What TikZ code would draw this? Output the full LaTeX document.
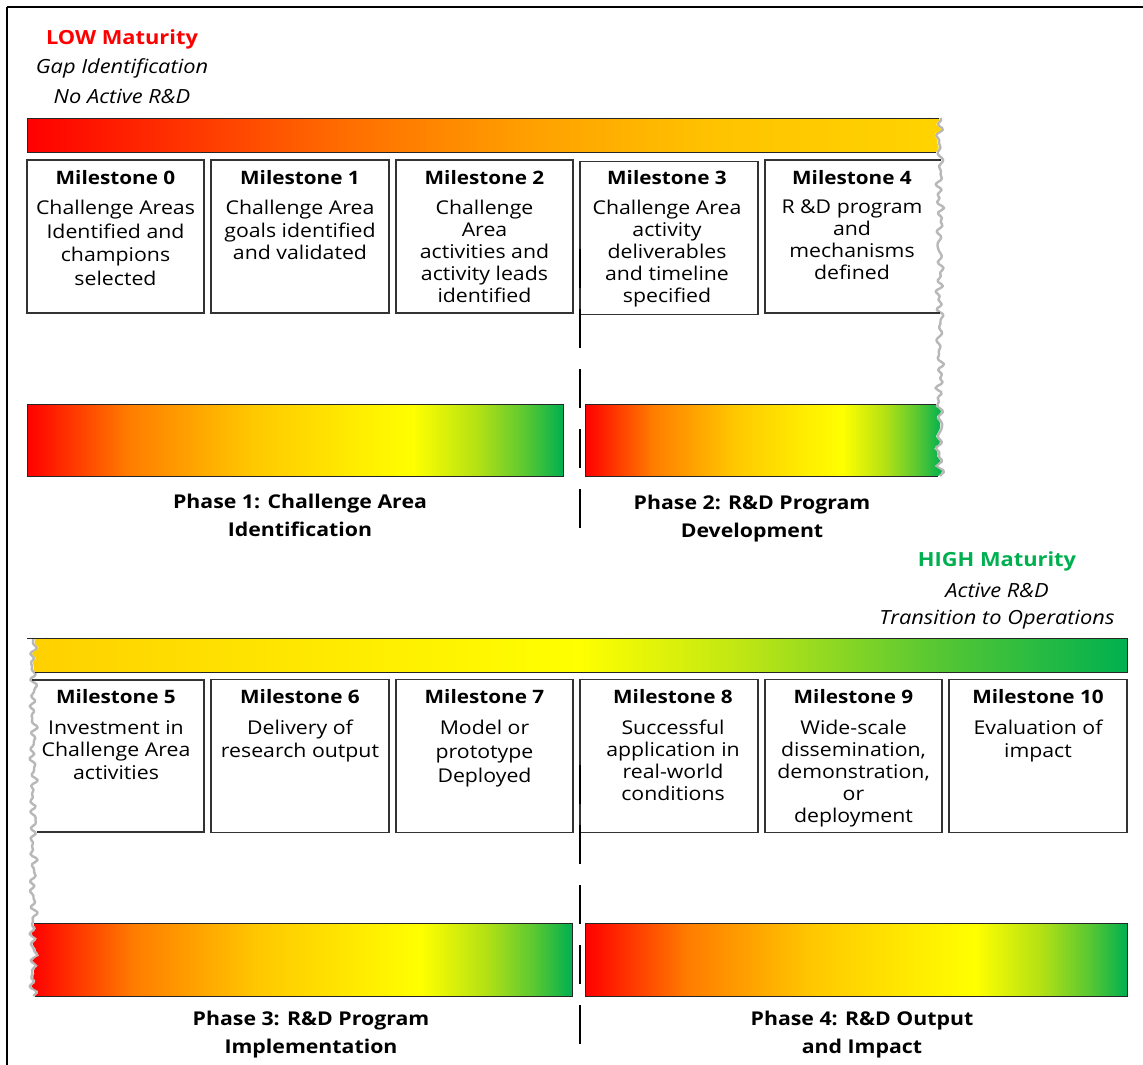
\documentclass[tikz,border=0pt]{standalone}
\usepackage{fontspec}
\setmainfont{Open Sans}[FakeStretch=1.12]
\definecolor{lowred}{RGB}{255,0,0}
\definecolor{highgreen}{RGB}{0,176,80}
\definecolor{tA}{RGB}{255,0,0}
\definecolor{tB}{RGB}{255,45,0}
\definecolor{tC}{RGB}{255,110,0}
\definecolor{tD}{RGB}{255,160,0}
\definecolor{tE}{RGB}{255,195,0}
\definecolor{tF}{RGB}{255,212,0}
\definecolor{pA}{RGB}{255,0,0}
\definecolor{pB}{RGB}{255,125,0}
\definecolor{pC}{RGB}{255,200,0}
\definecolor{pD}{RGB}{255,238,0}
\definecolor{pE}{RGB}{255,255,0}
\definecolor{pF}{RGB}{180,225,20}
\definecolor{pG}{RGB}{90,200,50}
\definecolor{pH}{RGB}{0,176,80}
\definecolor{hA}{RGB}{255,208,0}
\definecolor{hB}{RGB}{255,232,0}
\definecolor{hC}{RGB}{255,255,0}
\definecolor{hD}{RGB}{190,230,20}
\definecolor{hE}{RGB}{90,200,50}
\definecolor{hF}{RGB}{0,176,80}
\pgfdeclarehorizontalshading{topsh}{100bp}{color(0bp)=(tA); color(25bp)=(tA); color(32.5bp)=(tB); color(42.5bp)=(tC); color(52.5bp)=(tD); color(62.5bp)=(tE); color(75bp)=(tF); color(100bp)=(tF)}
\pgfdeclarehorizontalshading{phasesh}{100bp}{color(0bp)=(pA); color(25bp)=(pA); color(34.5bp)=(pB); color(46bp)=(pC); color(56bp)=(pD); color(61bp)=(pE); color(67bp)=(pF); color(71.5bp)=(pG); color(75bp)=(pH); color(100bp)=(pH)}
\pgfdeclarehorizontalshading{highsh}{100bp}{color(0bp)=(hA); color(25bp)=(hA); color(37.5bp)=(hB); color(50bp)=(hC); color(57.5bp)=(hD); color(66bp)=(hE); color(75bp)=(hF); color(100bp)=(hF)}
\begin{document}
\begin{tikzpicture}[x=1pt,y=-1pt,
  declare function={tr(\t)=938+1.8*sin(\t*23)+1.4*sin((\t-100)*37+50)+1.2*sin(\t*7+10)+0.7*sin((\t-100)*41); tl(\t)=35+1.8*sin((\t-630)*27)+1.4*sin((\t-630)*41+40)+1.2*sin((\t-630)*8)+0.7*sin((\t-630)*19+70);},
  msbox/.style={draw=black!80, line width=1.1pt, minimum height=153, inner sep=0},
  edge/.style={draw=black!80, line width=1.1pt},
  barline/.style={draw=black!85, line width=1pt},
  tearshadow/.style={draw=black!28, line width=2.4pt, line join=round},
  mstitle/.style={font=\fontsize{18.5}{22}\selectfont\bfseries, inner sep=0},
  msbody/.style={font=\fontsize{19}{22.5}\selectfont, align=center, inner sep=0, anchor=north},
  phaselbl/.style={font=\fontsize{19}{28}\selectfont\bfseries, align=center, inner sep=0},
  hdr/.style={font=\fontsize{19.5}{24}\selectfont, inner sep=0},
  divider/.style={line width=2pt, dash pattern=on 39pt off 21pt}]
\useasboundingbox (0,0) rectangle (1143,1065);
% frame
\draw[line width=1.5pt] (7,1065) -- (7,7);
\draw[line width=2.2pt] (7,7) -- (1143,7);

% ===== headers =====
\node[hdr, text=lowred, font=\fontsize{19.5}{24}\selectfont\bfseries] (low) at (122,39) {LOW Maturity};
\node[hdr, font=\fontsize{19.5}{24}\selectfont\itshape] (low2) at (122,68) {Gap Identification};
\node[hdr, font=\fontsize{19.5}{24}\selectfont\itshape] (low3) at (122,96) {No Active R\&D};

\node[hdr, text=highgreen, font=\fontsize{19.5}{24}\selectfont\bfseries] (high) at (997,561) {HIGH Maturity};
\node[hdr, font=\fontsize{19.5}{24}\selectfont\itshape] (high2) at (997,590) {Active R\&D};
\node[hdr, font=\fontsize{19.5}{24}\selectfont\itshape] (high3) at (997,620) {Transition to Operations};

% ===== row 1 =====
% right tear shadow
\draw[tearshadow] plot[domain=118:476,samples=180] ({tr(\x)+1.8},\x);

% top bar (torn right)
\shade[shading=topsh] (27,118) -- plot[domain=118:152,samples=16] ({tr(\x)},\x) -- (27,152) -- cycle;
\draw[barline] ({tr(118)},118) -- (27,118) -- (27,152) -- ({tr(152)},152);

% milestone boxes row 1
\node[msbox, minimum width=177] (m0) at (115.5,236.5) {};
\node[msbox, minimum width=178] (m1) at (300,236.5) {};
\node[msbox, minimum width=177] (m2) at (484.5,236.5) {};
\node[msbox, minimum width=178] (m3) at (669,238) {};
\draw[edge] ({tr(160)},160) -- (765,160) -- (765,313) -- ({tr(313)},313);
\coordinate (m4) at (852,236.5);

\node[mstitle] (m0t) at (115.5,178) {Milestone 0};
\node[msbody, font=\fontsize{19}{23.5}\selectfont] (m0b) at (115.5,200) {Challenge Areas\\Identified and\\champions\\selected};
\node[mstitle] (m1t) at (300,178) {Milestone 1};
\node[msbody] (m1b) at (300,200) {Challenge Area\\goals identified\\and validated};
\node[mstitle] (m2t) at (484.5,178) {Milestone 2};
\node[msbody, font=\fontsize{19}{22}\selectfont] (m2b) at (484.5,200) {Challenge\\Area\\activities and\\activity leads\\identified};
\node[mstitle] (m3t) at (667,178) {Milestone 3};
\node[msbody, font=\fontsize{19}{22}\selectfont] (m3b) at (667,200) {Challenge Area\\activity\\deliverables\\and timeline\\specified};
\node[mstitle] (m4t) at (852,178) {Milestone 4};
\node[msbody, font=\fontsize{19}{22}\selectfont] (m4b) at (852,200) {R \&D program\\and\\mechanisms\\defined};

% phase bars row 1
\shade[shading=phasesh, draw=black!85, line width=1pt] (27,404) rectangle (563,476);
\coordinate (p1) at (295,440);
\shade[shading=phasesh] (585,404) -- plot[domain=404:476,samples=30] ({tr(\x)},\x) -- (585,476) -- cycle;
\draw[barline] ({tr(404)},404) -- (585,404) -- (585,476) -- ({tr(476)},476);
\coordinate (p2) at (760,440);

\node[phaselbl] (p1l) at (300,515) {Phase 1: Challenge Area\\Identification};
\node[phaselbl] (p2l) at (752,518.5) {Phase 2: R\&D Program\\Development};

% divider row 1
\coordinate (d1a) at (580,249);
\coordinate (d1b) at (580,528);
\draw[divider] (d1a) -- (d1b);

% ===== row 2 =====
% left tear shadow
\draw[tearshadow] plot[domain=638:996,samples=180] ({tl(\x)-1.8},\x);

\shade[shading=highsh] plot[domain=638:672,samples=16] ({tl(\x)},\x) -- (1127,672) -- (1127,638) -- cycle;
\draw[barline] (27,638) -- (1127,638) -- (1127,672) -- ({tl(672)},672);

\draw[edge] ({tl(680)},680) -- (204,680) -- (204,832) -- ({tl(832)},832);
\coordinate (m5) at (118,756);
\node[msbox, minimum width=178] (m6) at (300,756) {};
\node[msbox, minimum width=177] (m7) at (484.5,756) {};
\node[msbox, minimum width=178] (m8) at (669,756) {};
\node[msbox, minimum width=177] (m9) at (853.5,756) {};
\node[msbox, minimum width=178] (m10) at (1038,756) {};

\node[mstitle] (m5t) at (116,697) {Milestone 5};
\node[msbody] (m5b) at (116,720) {Investment in\\Challenge Area\\activities};
\node[mstitle] (m6t) at (300,697) {Milestone 6};
\node[msbody] (m6b) at (300,720) {Delivery of\\research output};
\node[mstitle] (m7t) at (484.5,697) {Milestone 7};
\node[msbody, font=\fontsize{19}{24}\selectfont] (m7b) at (484.5,720) {Model or\\prototype\\Deployed};
\node[mstitle] (m8t) at (673,697) {Milestone 8};
\node[msbody, font=\fontsize{19}{22}\selectfont] (m8b) at (673,720) {Successful\\application in\\real-world\\conditions};
\node[mstitle] (m9t) at (853.5,697) {Milestone 9};
\node[msbody, font=\fontsize{19}{22}\selectfont] (m9b) at (853.5,720) {Wide-scale\\dissemination,\\demonstration,\\or\\deployment};
\node[mstitle] (m10t) at (1038,697) {Milestone 10};
\node[msbody] (m10b) at (1038,720) {Evaluation of\\impact};

% phase bars row 2
\shade[shading=phasesh] plot[domain=923:996,samples=30] ({tl(\x)},\x) -- (572,996) -- (572,923) -- cycle;
\draw[barline] ({tl(923)},923) -- (572,923) -- (572,996) -- ({tl(996)},996);
\coordinate (p3) at (300,960);
\shade[shading=phasesh, draw=black!85, line width=1pt] (585,923) rectangle (1127,996);
\coordinate (p4) at (856,960);

\node[phaselbl] (p3l) at (311,1034.5) {Phase 3: R\&D Program\\Implementation};
\node[phaselbl] (p4l) at (862,1034.5) {Phase 4: R\&D Output\\and Impact};

% divider row 2
\coordinate (d2a) at (580,765);
\coordinate (d2b) at (580,1048);
\draw[divider] (d2a) -- (d2b);
\end{tikzpicture}
\end{document}
